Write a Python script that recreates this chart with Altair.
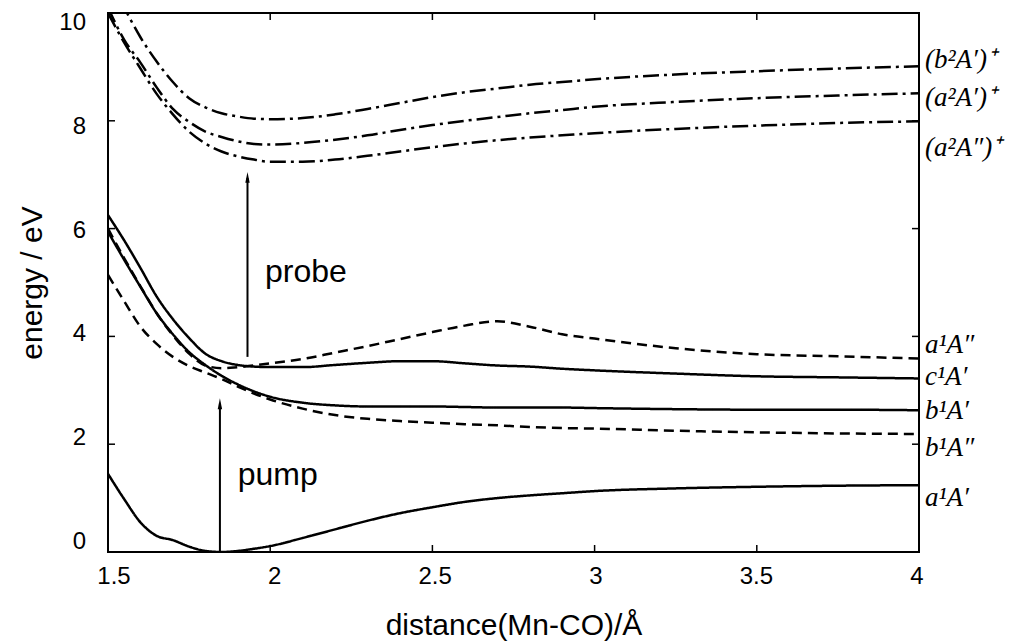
import altair as alt
import pandas as pd

# ---------------- data ----------------
dist = [1.5, 1.55, 1.6, 1.65, 1.7, 1.75, 1.8, 1.85, 1.9, 1.95, 2.0, 2.1, 2.2, 2.3,
        2.4, 2.5, 2.6, 2.7, 2.8, 2.9, 3.0, 3.25, 3.5, 3.75, 4.0]

e_a1Ap = [1.45, 0.98, 0.55, 0.30, 0.22, 0.10, 0.02, 0.0, 0.02, 0.06, 0.11, 0.26, 0.42,
          0.58, 0.72, 0.83, 0.93, 1.00, 1.05, 1.09, 1.13, 1.18, 1.21, 1.23, 1.24]
e_b1App = [5.14, 4.65, 4.18, 3.86, 3.62, 3.45, 3.33, 3.21, 3.07, 2.94, 2.83, 2.66, 2.54,
           2.47, 2.43, 2.40, 2.37, 2.35, 2.32, 2.30, 2.29, 2.25, 2.22, 2.20, 2.19]
e_b1Ap = [5.94, 5.42, 4.92, 4.43, 4.04, 3.71, 3.47, 3.27, 3.11, 2.98, 2.88, 2.77, 2.72,
          2.70, 2.70, 2.70, 2.69, 2.68, 2.68, 2.68, 2.67, 2.65, 2.64, 2.64, 2.63]
e_c1Ap = [6.25, 5.78, 5.27, 4.74, 4.32, 3.97, 3.68, 3.54, 3.47, 3.44, 3.43, 3.43, 3.47,
          3.51, 3.54, 3.54, 3.50, 3.46, 3.44, 3.40, 3.37, 3.31, 3.26, 3.24, 3.22]
e_a1App = [6.00, 5.45, 4.93, 4.43, 4.02, 3.68, 3.46, 3.41, 3.43, 3.46, 3.50, 3.58, 3.70,
           3.82, 3.95, 4.08, 4.20, 4.28, 4.18, 4.04, 3.96, 3.78, 3.67, 3.63, 3.59]
e_a2Appc = [10.0, 9.45, 8.97, 8.50, 8.12, 7.80, 7.58, 7.43, 7.34, 7.28, 7.24, 7.24, 7.28,
            7.35, 7.43, 7.51, 7.58, 7.64, 7.69, 7.73, 7.77, 7.85, 7.91, 7.96, 7.99]
e_a2Apc = [10.1, 9.50, 9.08, 8.62, 8.22, 7.98, 7.80, 7.70, 7.62, 7.57, 7.56, 7.59, 7.65,
           7.73, 7.83, 7.92, 8.00, 8.07, 8.14, 8.20, 8.26, 8.35, 8.42, 8.47, 8.51]
e_b2Apc = [10.7, 10.1, 9.55, 9.10, 8.72, 8.42, 8.25, 8.14, 8.08, 8.04, 8.03, 8.05, 8.12,
           8.22, 8.33, 8.44, 8.53, 8.60, 8.67, 8.72, 8.77, 8.86, 8.92, 8.97, 9.01]

series_names = ["a1A'", "b1A''", "b1A'", "c1A'", "a1A''", "(a2A'')+", "(a2A')+", "(b2A')+"]
series_vals = [e_a1Ap, e_b1App, e_b1Ap, e_c1Ap, e_a1App, e_a2Appc, e_a2Apc, e_b2Apc]
series_style = ["solid", "dashed", "solid", "solid", "dashed", "dashdot", "dashdot", "dashdot"]

state_labels = ["(b²A′)⁺", "(a²A′)⁺", "(a²A″)⁺", "a¹A″", "c¹A′", "b¹A′", "b¹A″", "a¹A′"]
state_label_y = [9.12, 8.42, 7.50, 3.84, 3.25, 2.62, 1.93, 1.00]

arrow_names = ["pump", "probe"]
arrow_x = [1.845, 1.93]
arrow_start = [0.0, 3.62]
arrow_tip = [2.86, 7.06]
arrow_text_x = [1.90, 1.984]
arrow_text_y = [1.43, 5.2]

xticks = [1.5, 2.0, 2.5, 3.0, 3.5, 4.0]
xtick_labels = ["1.5", "2", "2.5", "3", "3.5", "4"]
yticks = [0, 2, 4, 6, 8, 10]
ytick_labels = ["0", "2", "4", "6", "8", "10"]

# ---------------- layout ----------------
W, H = 811, 539
TICK = 7
SANS = "Liberation Sans"

rows = []
for name, vals, style in zip(series_names, series_vals, series_style):
    for d, v in zip(dist, vals):
        rows.append({"d": d, "e": v, "series": name, "style": style})
df = pd.DataFrame(rows)

xs = alt.Scale(domain=[1.5, 4.0], nice=False, zero=False)
ys = alt.Scale(domain=[0, 10], nice=False, zero=False)
# tick labels in the reference sit on a slightly compressed grid
xs_lab = alt.Scale(domain=[1.4813, 4.0062], nice=False, zero=False)
ys_lab = alt.Scale(domain=[-0.193, 10.193], nice=False, zero=False)

xaxis = alt.Axis(values=xticks, labels=False, ticks=False, domain=False, grid=False,
                 title="distance(Mn-CO)/Å", titleFontSize=30,
                 titleFont=SANS, titleFontWeight="normal", titleColor="black",
                 titleX=W / 2, titleY=73, titleBaseline="middle", titleAlign="center")
yaxis = alt.Axis(values=yticks, labels=False, ticks=False, domain=False, grid=False,
                 title="energy / eV", titleFontSize=30,
                 titleFont=SANS, titleFontWeight="normal", titleColor="black",
                 titleX=-76, titleY=H / 2, titleAngle=-90, titleBaseline="middle",
                 titleAlign="center")


def X(field, scale=xs):
    return alt.X(field, scale=scale, axis=None)


def Y(field, scale=ys):
    return alt.Y(field, scale=scale, axis=None)


frame = alt.Chart(pd.DataFrame({"a": [0]})).mark_rect(
    fill=None, stroke="black", strokeWidth=2
).encode(x=alt.value(0), x2=alt.value(W), y=alt.value(0), y2=alt.value(H))

lines = alt.Chart(df).mark_line(clip=True, strokeWidth=2.5, color="black",
                                interpolate="monotone").encode(
    x=alt.X("d:Q", scale=xs, axis=xaxis),
    y=alt.Y("e:Q", scale=ys, axis=yaxis),
    detail="series:N",
    strokeDash=alt.StrokeDash("style:N", legend=None,
                              scale=alt.Scale(domain=["solid", "dashed", "dashdot"],
                                              range=[[1, 0], [10, 6], [16, 5, 3, 5]])),
)

arr_df = pd.DataFrame({"name": arrow_names, "x": arrow_x, "y0": arrow_start,
                       "ybody": [t - 0.12 for t in arrow_tip],
                       "yhead": [t - 0.11 for t in arrow_tip],
                       "tx": arrow_text_x, "ty": arrow_text_y})

arrow_body = alt.Chart(arr_df).mark_rule(color="black", strokeWidth=2).encode(
    x=X("x:Q"), y=Y("y0:Q"), y2="ybody:Q")
arrow_head = alt.Chart(arr_df).mark_point(
    shape="M0,-1L0.4,1L-0.4,1Z", filled=True, color="black", opacity=1, size=120
).encode(x=X("x:Q"), y=Y("yhead:Q"))
arrow_text = alt.Chart(arr_df).mark_text(
    align="left", baseline="middle", fontSize=32, font=SANS, color="black"
).encode(x=X("tx:Q"), y=Y("ty:Q"), text="name:N")

lab_df = pd.DataFrame({"label": state_labels, "y": state_label_y, "x": [4.0] * len(state_labels)})
labels = alt.Chart(lab_df).mark_text(
    align="left", baseline="middle", dx=6, fontSize=27, font="Liberation Serif",
    fontStyle="italic", color="black", clip=False
).encode(x=X("x:Q"), y=Y("y:Q"), text="label:N")

xt_df = pd.DataFrame({"t": xticks, "lab": xtick_labels})
yt_df = pd.DataFrame({"t": yticks, "lab": ytick_labels})
tick_b = alt.Chart(xt_df).mark_rule(color="black", strokeWidth=1.5).encode(
    x=X("t:Q"), y=alt.value(H), y2=alt.value(H - TICK))
tick_t = alt.Chart(xt_df).mark_rule(color="black", strokeWidth=1.5).encode(
    x=X("t:Q"), y=alt.value(0), y2=alt.value(TICK))
tick_l = alt.Chart(yt_df).mark_rule(color="black", strokeWidth=1.5).encode(
    y=Y("t:Q"), x=alt.value(0), x2=alt.value(TICK))
tick_r = alt.Chart(yt_df).mark_rule(color="black", strokeWidth=1.5).encode(
    y=Y("t:Q"), x=alt.value(W), x2=alt.value(W - TICK))

xlab = alt.Chart(xt_df).mark_text(
    align="center", baseline="middle", fontSize=24, font=SANS, color="black"
).encode(x=X("t:Q", xs_lab), y=alt.value(H + 25), text="lab:N")
ylab = alt.Chart(yt_df).mark_text(
    align="right", baseline="middle", fontSize=24, font=SANS, color="black"
).encode(y=Y("t:Q", ys_lab), x=alt.value(-22), text="lab:N")

chart = alt.layer(
    frame, tick_b, tick_t, tick_l, tick_r, lines, arrow_body, arrow_head, arrow_text,
    labels, xlab, ylab
).resolve_scale(
    x="independent", y="independent"
).properties(
    width=W, height=H,
    autosize=alt.AutoSizeParams(type="none"),
    padding={"left": 100, "top": 5, "right": 109, "bottom": 89},
).configure_view(
    stroke=None
)

chart.save("out.html", embed_options={"renderer": "svg", "actions": False})
